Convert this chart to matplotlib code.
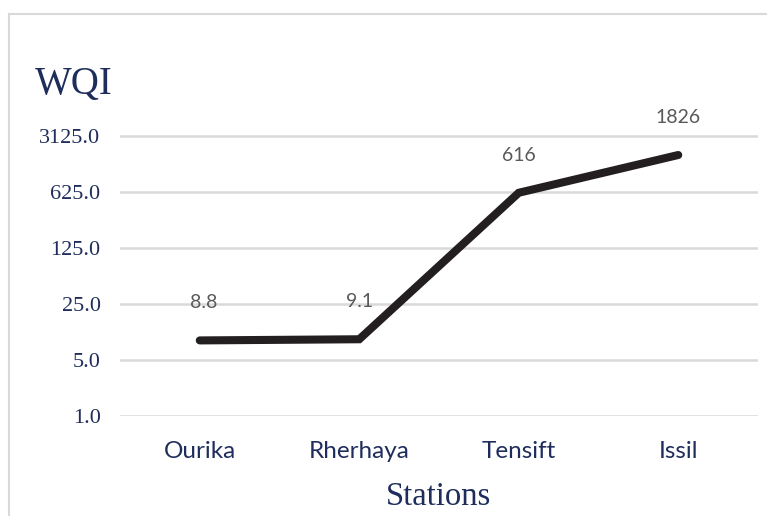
import numpy as np
import matplotlib.pyplot as plt
from matplotlib.lines import Line2D
from matplotlib.ticker import FixedLocator, FixedFormatter

stations = ["Ourika", "Rherhaya", "Tensift", "Issil"]
wqi = [8.8, 9.1, 616, 1826]
wqi_labels = ["8.8", "9.1", "616", "1826"]
yticks = [1, 5, 25, 125, 625, 3125]
ytick_labels = ["1.0", "5.0", "25.0", "125.0", "625.0", "3125.0"]

navy = "#1f2d5c"
grid_col = "#d9d9d9"

fig = plt.figure(figsize=(7.67, 5.16), dpi=100)
ax = fig.add_axes([120 / 767, 100 / 516, 638 / 767, 296 / 516])

x = np.arange(len(stations))
ax.plot(x, wqi, color="#231f20", lw=5.8, solid_capstyle="round",
        solid_joinstyle="miter", zorder=3)

for xi, v, lab in zip(x, wqi, wqi_labels):
    ax.annotate(lab, (xi, v), xytext=(3 if xi == 0 else 0, 27),
                textcoords="offset points", ha="center", va="center",
                fontsize=14, color="#595959", family="Lato")

ax.set_yscale("log", base=5)
ax.set_ylim(1, 5 ** 5.292)
ax.set_xlim(-0.5, 3.5)
ax.yaxis.set_major_locator(FixedLocator(yticks))
ax.yaxis.set_major_formatter(FixedFormatter(ytick_labels))
ax.yaxis.set_minor_locator(FixedLocator([]))
ax.set_xticks(x)
ax.set_xticklabels(stations)

for lab in ax.get_yticklabels():
    lab.set_family("Liberation Serif")
    lab.set_fontsize(16)
    lab.set_color(navy)
for lab in ax.get_xticklabels():
    lab.set_family("Lato")
    lab.set_fontsize(17.5)
    lab.set_color(navy)

ax.tick_params(axis="y", length=0, pad=14)
ax.tick_params(axis="x", length=0, pad=18)
for s in ax.spines.values():
    s.set_visible(False)
ax.grid(axis="y", color=grid_col, lw=1.8)
ax.set_axisbelow(True)

fig.text(35 / 767, 1 - 85 / 516, "WQI", family="Liberation Serif",
         fontsize=28, color=navy, ha="left", va="center")
fig.text(438 / 767, 1 - 497 / 516, "Stations", family="Liberation Serif",
         fontsize=23.5, color=navy, ha="center", va="center")

# chart area border (left and top edges visible)
fig.add_artist(Line2D([9 / 767, 9 / 767], [0, 1 - 14 / 516],
                      transform=fig.transFigure, color=grid_col, lw=1.5))
fig.add_artist(Line2D([9 / 767, 1], [1 - 14 / 516, 1 - 14 / 516],
                      transform=fig.transFigure, color=grid_col, lw=1.5))

fig.savefig("out.png", dpi=100)
